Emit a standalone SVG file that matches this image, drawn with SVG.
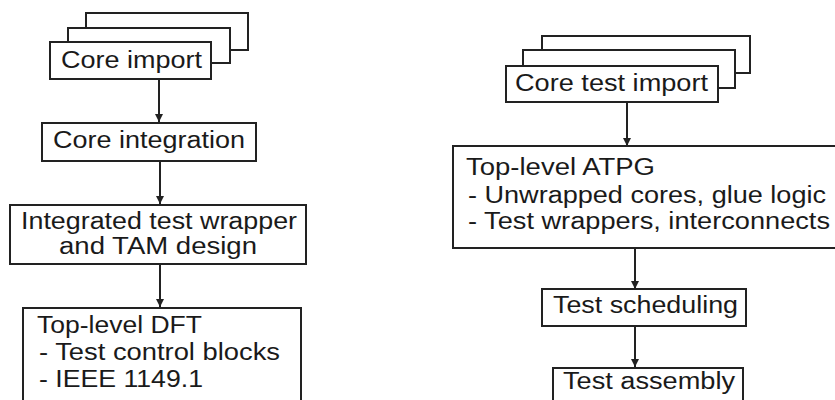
<svg xmlns="http://www.w3.org/2000/svg" width="835" height="400" viewBox="0 0 835 400">
<defs>
<style>
.box{fill:#fff;stroke:#222;stroke-width:2}
.t{font-family:"Liberation Sans",Arial,sans-serif;font-size:23px;fill:#1a1a1a}
.c{stroke:#222;stroke-width:2;fill:none}
</style>
<marker id="ah" viewBox="0 0 8 10" refX="8" refY="5" markerWidth="8" markerHeight="10" markerUnits="userSpaceOnUse" orient="auto">
<path d="M0,1 L8,5 L0,9 Z" fill="#222"/>
</marker>
</defs>
<rect width="835" height="400" fill="#fff"/>
<g id="connectors">
<line class="c" x1="159" y1="79" x2="159" y2="122" marker-end="url(#ah)"/>
<line class="c" x1="160" y1="161" x2="160" y2="204" marker-end="url(#ah)"/>
<line class="c" x1="160" y1="264" x2="160" y2="307" marker-end="url(#ah)"/>
<line class="c" x1="627" y1="102" x2="627" y2="146" marker-end="url(#ah)"/>
<line class="c" x1="635" y1="248" x2="635" y2="289" marker-end="url(#ah)"/>
<line class="c" x1="635" y1="326" x2="635" y2="367" marker-end="url(#ah)"/>
</g>
<g id="core-import">
<rect class="box" x="86" y="13" width="162" height="37"/>
<rect class="box" x="68" y="28" width="162" height="35"/>
<rect class="box" x="50" y="42" width="161" height="37"/>
<text class="t" x="61" y="68" textLength="141" lengthAdjust="spacingAndGlyphs">Core import</text>
</g>
<g id="core-integration">
<rect class="box" x="42" y="123" width="214" height="38"/>
<text class="t" x="53" y="148" textLength="192" lengthAdjust="spacingAndGlyphs">Core integration</text>
</g>
<g id="wrapper-tam">
<rect class="box" x="10" y="205" width="296" height="59"/>
<text class="t" x="21" y="229" textLength="276" lengthAdjust="spacingAndGlyphs">Integrated test wrapper</text>
<text class="t" x="59" y="254" textLength="198" lengthAdjust="spacingAndGlyphs">and TAM design</text>
</g>
<g id="top-level-dft">
<rect class="box" x="23" y="308" width="278" height="110"/>
<text class="t" x="37" y="333" textLength="165" lengthAdjust="spacingAndGlyphs">Top-level DFT</text>
<text class="t" x="39" y="360" textLength="241" lengthAdjust="spacingAndGlyphs">- Test control blocks</text>
<text class="t" x="39" y="387" textLength="164" lengthAdjust="spacingAndGlyphs">- IEEE 1149.1</text>
</g>
<g id="core-test-import">
<rect class="box" x="542" y="36" width="208" height="37"/>
<rect class="box" x="523" y="50" width="212" height="38"/>
<rect class="box" x="506" y="66" width="212" height="36"/>
<text class="t" x="515" y="91" textLength="193" lengthAdjust="spacingAndGlyphs">Core test import</text>
</g>
<g id="top-level-atpg">
<rect class="box" x="453" y="146" width="400" height="102"/>
<text class="t" x="466" y="175" textLength="189" lengthAdjust="spacingAndGlyphs">Top-level ATPG</text>
<text class="t" x="468" y="203" textLength="358" lengthAdjust="spacingAndGlyphs">- Unwrapped cores, glue logic</text>
<text class="t" x="468" y="229" textLength="362" lengthAdjust="spacingAndGlyphs">- Test wrappers, interconnects</text>
</g>
<g id="test-scheduling">
<rect class="box" x="542" y="289" width="204" height="37"/>
<text class="t" x="553" y="313" textLength="185" lengthAdjust="spacingAndGlyphs">Test scheduling</text>
</g>
<g id="test-assembly">
<rect class="box" x="553" y="368" width="190" height="50"/>
<text class="t" x="563" y="389" textLength="172" lengthAdjust="spacingAndGlyphs">Test assembly</text>
</g>
</svg>
